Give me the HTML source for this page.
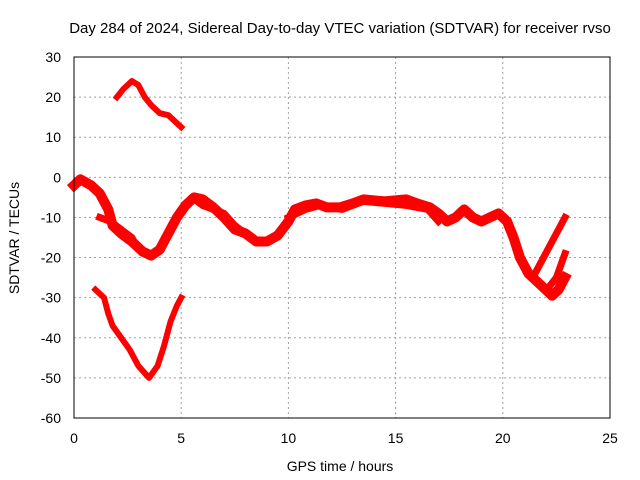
<!DOCTYPE html>
<html><head><meta charset="utf-8"><style>
body{margin:0;background:#fff}
svg{display:block;font-family:"Liberation Sans",sans-serif;font-size:14px}
</style></head><body>
<svg id="chart" width="640" height="480" viewBox="0 0 640 480">
<text x="340" y="33" text-anchor="middle" font-size="15">Day 284 of 2024, Sidereal Day-to-day VTEC variation (SDTVAR) for receiver rvso</text>
<text x="340" y="471" text-anchor="middle">GPS time / hours</text>
<text transform="translate(19,238) rotate(-90)" text-anchor="middle">SDTVAR / TECUs</text>
<g id="grid"></g><g id="ticks"></g><g id="series"></g>
<rect x="74" y="57" width="536" height="361" fill="none" stroke="#000" stroke-width="1"/>
</svg>
<script>
const xTicks=[0,5,10,15,20,25];
const yTicks=[30,20,10,0,-10,-20,-30,-40,-50,-60];
const arcHours=[2.0,2.3,2.7,3.0,3.3,3.6,4.0,4.4,4.7,5.0];
const arcVals=[20,22,24,23,20,18,16,15.5,14,12.5];
const vHours=[1.0,1.4,1.6,1.8,2.2,2.6,3.0,3.5,3.9,4.2,4.5,4.8,5.0];
const vVals=[-28,-30,-34,-37,-40,-43,-47,-50,-47,-42,-36,-32,-30];
const mainHours=[0,0.3,0.8,1.2,1.6,1.8,2.2,2.7,3.2,3.6,4.0,4.4,4.8,5.2,5.6,6.0,6.5,7.0,7.5,8.0,8.5,9.0,9.5,10.0,10.3,10.8,11.3,11.8,12.4,13.0,13.5,14.5,15.5,16.0,16.6,17.0,17.4,17.8,18.2,18.6,19.0,19.4,19.8,20.2,20.5,20.8,21.2,21.6,22.0,22.3,22.6,22.9];
const mainVals=[-2,-0.5,-2,-4,-8,-12,-14,-16,-18.5,-19.5,-18,-14,-10,-7,-5,-5.5,-7.5,-10,-13,-14,-16,-16,-14.5,-11,-8,-7,-6.5,-7.5,-7.5,-6.5,-5.5,-6,-5.5,-6.5,-7.5,-9,-11,-10,-8,-10,-11,-10,-9,-11,-15,-20,-24,-26,-28,-29.5,-28,-25];
const branch1Hours=[1.2,1.7,2.2,2.7,2.9];
const branch1Vals=[-10,-11,-13,-15,-17];
const branch2Hours=[5.0,5.5,6.0,6.5,7.0,7.5,8.0];
const branch2Vals=[-8,-5,-7,-8,-9,-12,-14];
const branch3Hours=[10.0,10.8,11.5,12.5,13.5,14.5,15.5,16.5,17.0];
const branch3Vals=[-10,-8,-7,-8,-6,-6.5,-7,-8,-11];
const branch4Hours=[21.5,22.0,22.5,22.9];
const branch4Vals=[-24,-19,-14,-10];
const branch5Hours=[22.2,22.5,22.9];
const branch5Vals=[-27,-25,-19];
const X0=74,X1=610,Y0=418,Y1=57;
const xs=h=>X0+(h-0)/(25-0)*(X1-X0);
const ys=v=>Y0-(v+60)/90*(Y0-Y1);
const NS='http://www.w3.org/2000/svg';
const grid=document.getElementById('grid'),tk=document.getElementById('ticks'),sg=document.getElementById('series');
function mk(t,a,p){const e=document.createElementNS(NS,t);for(const k in a)e.setAttribute(k,a[k]);p.appendChild(e);return e;}
xTicks.forEach(t=>{const x=xs(t);
 if(t>0&&t<25){const g=mk('line',{x1:x,x2:x,y1:Y1,y2:Y0,stroke:'#a0a0a0','stroke-dasharray':'2,3'},grid);
 
 }
 const l=mk('text',{x:x,y:443,'text-anchor':'middle'},tk);l.textContent=t;
 
 });
yTicks.forEach(t=>{const y=ys(t);
 if(t>-60&&t<30){const g=mk('line',{x1:X0,x2:X1,y1:y,y2:y,stroke:'#a0a0a0','stroke-dasharray':'2,3'},grid);
 
 }
 const l=mk('text',{x:61,y:y+5,'text-anchor':'end'},tk);l.textContent=t;
 
 });
function series(H,V,name,w){
 const p=mk('polyline',{points:H.map((h,i)=>xs(h)+','+ys(V[i])).join(' '),fill:'none',stroke:'#f00','stroke-width':w,'stroke-linejoin':'round','stroke-linecap':'square'},sg);
 
 }
series(arcHours,arcVals,'series-arc',6);
series(vHours,vVals,'series-v',6);
series(mainHours,mainVals,'series-main',10);
series(branch1Hours,branch1Vals,'series-branch-1',7);
series(branch2Hours,branch2Vals,'series-branch-2',7);
series(branch3Hours,branch3Vals,'series-branch-3',7);
series(branch4Hours,branch4Vals,'series-branch-4',7);
series(branch5Hours,branch5Vals,'series-branch-5',7);
</script>
</body></html>
